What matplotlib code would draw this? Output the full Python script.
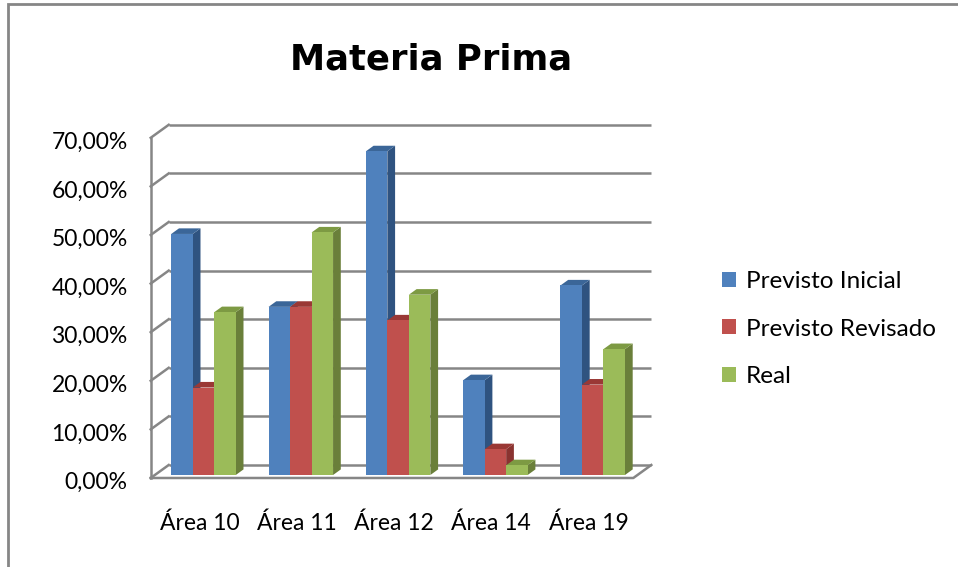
import matplotlib
matplotlib.use("Agg")
import matplotlib.pyplot as plt
from matplotlib.patches import Polygon, Patch, Rectangle

# ---- datos ----
areas = ["Área 10", "Área 11", "Área 12", "Área 14", "Área 19"]
series = ["Previsto Inicial", "Previsto Revisado", "Real"]
previsto_inicial = [49.6, 34.6, 66.6, 19.5, 39.0]
previsto_revisado = [18.0, 34.6, 31.8, 5.3, 18.6]
real = [33.5, 49.9, 37.1, 2.0, 25.9]
y_ticks = [0, 10, 20, 30, 40, 50, 60, 70]
y_labels = [f"{t:.2f}%".replace(".", ",") for t in y_ticks]

valores = [previsto_inicial, previsto_revisado, real]
# frente, lateral, tapa
colores = [
    ("#4f81bd", "#2f5380", "#3b6698"),
    ("#c0504d", "#8a3330", "#9a3835"),
    ("#9bbb59", "#6a7f3a", "#7d9a43"),
]

# ---- perspectiva oblicua (estilo Excel 3D) ----
DX, DY = 0.185, 2.675      # desplazamiento de fondo total (unidades de datos)
F0, F1 = 0.23, 0.66        # profundidad de las barras
W = 0.221                  # ancho de cada barra
XL, XR = -0.5, 4.46
GRIS = "#868686"


def proj(x, v, d):
    return x + (d - F0) * DX, v + (d - F0) * DY


fig = plt.figure(figsize=(9.58, 5.67), dpi=100)
ax = fig.add_axes([0, 0, 1, 1])
ax.set_xlim(-2.0915, 7.7544)
ax.set_ylim(-18.93, 97.74)
ax.axis("off")

# marco exterior
fig.patches.append(Rectangle((8 / 958, -0.1), 1.2, 1.1 - 4 / 567, transform=fig.transFigure,
                             fill=False, edgecolor=GRIS, linewidth=2))

# paredes y rejilla
for t, lab in zip(y_ticks, y_labels):
    a, b = proj(XL, t, 1), proj(XR, t, 1)
    ax.plot([a[0], b[0]], [a[1], b[1]], color=GRIS, lw=1.8, zorder=1, solid_capstyle="butt")
    c = proj(XL, t, 0)
    ax.plot([c[0], a[0]], [c[1], a[1]], color=GRIS, lw=1.8, zorder=1)
    ax.annotate(lab, xy=c, xytext=(-23, -11), textcoords="offset pixels",
                ha="right", va="baseline", fontsize=16.5, family="Lato")

p0, p1 = proj(XL, 0, 0), proj(XL, y_ticks[-1], 0)
ax.plot([p0[0], p1[0]], [p0[1], p1[1]], color=GRIS, lw=1.8, zorder=1)
q0, q1 = proj(XR, 0, 0), proj(XR, 0, 1)
ax.plot([p0[0], q0[0], q1[0]], [p0[1], q0[1], q1[1]], color=GRIS, lw=1.8, zorder=1)

# barras
z = 2
for i in range(len(areas)):
    for j in range(len(series)):
        v = valores[j][i]
        x0 = i + (j - 1.5) * W
        x1 = x0 + W
        frente, lado, tapa = colores[j]
        lateral = [(x1, 0), (x1, v), (x1 + (F1 - F0) * DX, v + (F1 - F0) * DY),
                   (x1 + (F1 - F0) * DX, (F1 - F0) * DY)]
        superior = [(x0, v), (x1, v), (x1 + (F1 - F0) * DX, v + (F1 - F0) * DY),
                    (x0 + (F1 - F0) * DX, v + (F1 - F0) * DY)]
        ax.add_patch(Polygon(lateral, closed=True, facecolor=lado, edgecolor="none", zorder=z))
        ax.add_patch(Polygon(superior, closed=True, facecolor=tapa, edgecolor="none", zorder=z))
        ax.add_patch(Rectangle((x0, 0), W, v, facecolor=frente, edgecolor="none", zorder=z + 1))
        z += 2
    ax.annotate(areas[i], xy=proj(i, 0, 0), xytext=(0, -52), textcoords="offset pixels",
                ha="center", va="baseline", fontsize=16.5, family="Lato")

fig.text(431 / 958, 1 - 70 / 567, "Materia Prima", ha="center", va="baseline",
         fontsize=25.5, fontweight="bold", family="DejaVu Sans")

handles = [Patch(facecolor=c[0], edgecolor="none") for c in colores]
fig.legend(handles, series, loc="center left", bbox_to_anchor=(722 / 958, 1 - 329 / 567),
           frameon=False, prop={"family": "Lato", "size": 17.5}, handlelength=0.58,
           handleheight=0.58, handletextpad=0.4, labelspacing=1.1, borderpad=0,
           borderaxespad=0)

fig.savefig("out.png", dpi=100)
